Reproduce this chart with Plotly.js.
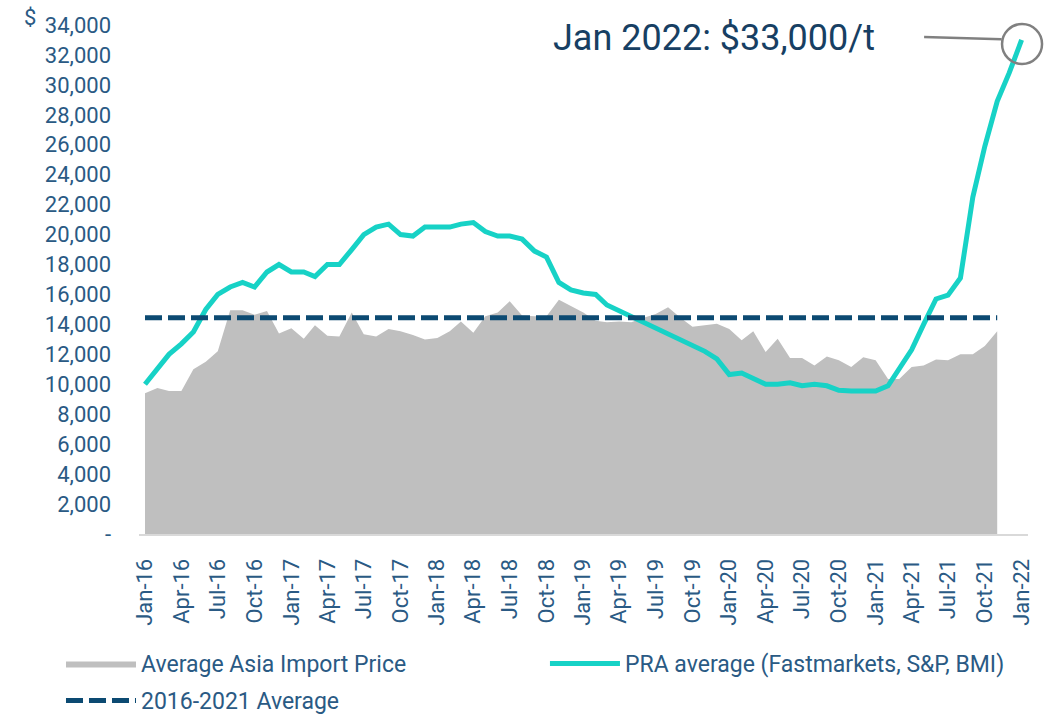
<!DOCTYPE html>
<html>
<head>
<meta charset="utf-8">
<script src="https://cdn.plot.ly/plotly-3.0.1.min.js"></script>
<style>
html,body{margin:0;padding:0;background:#fff;}
#chart{width:1048px;height:717px;}
</style>
</head>
<body>
<div id="chart"></div>
<script>
// Month index starts at Jan 2016
const startYear = 2016;
const asiaImportPrice = [9400, 9750, 9550, 9550, 11000, 11500, 12200, 14950, 14950, 14650, 14900, 13400,
  13750, 13050, 13950, 13250, 13200, 14800, 13350, 13200, 13700, 13550, 13300, 13000,
  13100, 13550, 14200, 13450, 14550, 14800, 15550, 14600, 14550, 14550, 15650, 15250,
  14800, 14250, 14150, 14200, 14150, 14450, 14700, 15150, 14450, 13850, 13950, 14050,
  13700, 12950, 13550, 12150, 13050, 11750, 11750, 11250, 11850, 11600, 11150, 11800,
  11600, 10350, 10350, 11150, 11250, 11650, 11600, 12000, 12000, 12550, 13550];
const praAverage = [10000, 11000, 12000, 12700, 13500, 15000, 16000, 16500, 16800, 16500, 17500, 18000,
  17500, 17500, 17200, 18000, 18000, 19000, 20000, 20500, 20700, 20000, 19900, 20500,
  20500, 20500, 20700, 20800, 20200, 19900, 19900, 19700, 18900, 18500, 16800, 16300,
  16100, 16000, 15300, 14900, 14500, 14100, 13800, 13400, 13000, 12600, 12200, 11700,
  10650, 10750, 10400, 10000, 10000, 10100, 9900, 10000, 9900, 9600, 9550, 9550,
  9550, 9900, 11100, 12300, 14000, 15700, 15950, 17100, 22500, 25900, 28900, 30800,
  33000];
const averageValue = 14450;
const yTickVals = [0,2000,4000,6000,8000,10000,12000,14000,16000,18000,20000,22000,24000,26000,28000,30000,32000,34000];
const yTickText = ['-','2,000','4,000','6,000','8,000','10,000','12,000','14,000','16,000','18,000','20,000','22,000','24,000','26,000','28,000','30,000','32,000','34,000'];
const seriesNames = ['Average Asia Import Price','PRA average (Fastmarkets, S&P, BMI)','2016-2021 Average'];
const calloutText = 'Jan 2022: $33,000/t';

function monthDate(i){
  const y = startYear + Math.floor(i/12);
  const m = (i % 12) + 1;
  return y + '-' + (m < 10 ? '0' + m : m) + '-01';
}
const xAsia = asiaImportPrice.map((_, i) => monthDate(i));
const xPra = praAverage.map((_, i) => monthDate(i));
const avgLine = asiaImportPrice.map(() => averageValue);

const tickColor = '#2a5a84';
const font = 'Roboto, "Open Sans", sans-serif';

const traces = [
  {x: xAsia, y: asiaImportPrice, type: 'scatter', mode: 'lines', name: seriesNames[0],
   fill: 'tozeroy', fillcolor: '#bfbfbf', line: {color: '#bfbfbf', width: 0}, hoverinfo: 'skip', legend: 'legend'},
  {x: xPra, y: praAverage, type: 'scatter', mode: 'lines', name: seriesNames[1],
   line: {color: '#17d2c6', width: 5}, legend: 'legend2'},
  {x: xAsia, y: avgLine, type: 'scatter', mode: 'lines', name: seriesNames[2],
   line: {color: '#0c4a72', width: 5, dash: '17px,6px'}, legend: 'legend3'}
];

const lastX = xPra[xPra.length - 1];
const lastY = praAverage[praAverage.length - 1];

const legendCommon = {
  orientation: 'h', xref: 'container', yref: 'container', xanchor: 'left', yanchor: 'top',
  font: {family: font, size: 23, color: tickColor},
  itemwidth: 70, traceorder: 'normal',
  bgcolor: 'rgba(0,0,0,0)'
};

const layout = {
  width: 1048, height: 717,
  margin: {l: 139, r: 20, t: 25, b: 183, autoexpand: false},
  paper_bgcolor: '#ffffff', plot_bgcolor: '#ffffff',
  font: {family: font, color: tickColor, size: 20},
  xaxis: {
    type: 'date', range: ['2015-12-17', '2022-01-17'],
    tick0: '2016-01-01', dtick: 'M3', tickformat: '%b-%y', tickangle: -90,
    showgrid: false, zeroline: false, showline: true, linecolor: '#d9d9d9', linewidth: 2,
    ticks: '', tickfont: {family: font, size: 22, color: tickColor}, ticklabelstandoff: 14
  },
  yaxis: {
    range: [0, 34000], tickvals: yTickVals, ticktext: yTickText,
    showgrid: false, zeroline: false, showline: false, ticks: '',
    tickfont: {family: font, size: 22, color: tickColor}, ticklabelstandoff: 27
  },
  showlegend: true,
  legend: Object.assign({}, legendCommon, {x: 0.0582, y: 0.1046}),
  legend2: Object.assign({}, legendCommon, {x: 0.52, y: 0.1046}),
  legend3: Object.assign({}, legendCommon, {x: 0.0582, y: 0.0530}),
  annotations: [
    {xref: 'paper', yref: 'paper', x: 0.4634, y: 0.9745, xanchor: 'left', yanchor: 'middle',
     text: calloutText, showarrow: false, font: {family: font, size: 36, color: '#173f63'}},
    {x: lastX, y: lastY, xref: 'x', yref: 'y', text: '', showarrow: true, arrowhead: 0,
     ax: -99, ay: -3, arrowcolor: '#808080', arrowwidth: 2.5, standoff: 20},
    {xref: 'paper', yref: 'paper', x: -0.1226, y: 1.014, xanchor: 'center', yanchor: 'middle',
     text: '$', showarrow: false, font: {family: font, size: 22, color: tickColor}}
  ],
  shapes: [
    {type: 'circle', xref: 'paper', yref: 'paper', xsizemode: 'pixel', ysizemode: 'pixel',
     xanchor: 0.9933, yanchor: 0.9705, x0: -20, x1: 20, y0: -24, y1: 16,
     line: {color: '#808080', width: 2.5}}
  ]
};

Plotly.newPlot('chart', traces, layout, {displayModeBar: false, staticPlot: true});
</script>
</body>
</html>
